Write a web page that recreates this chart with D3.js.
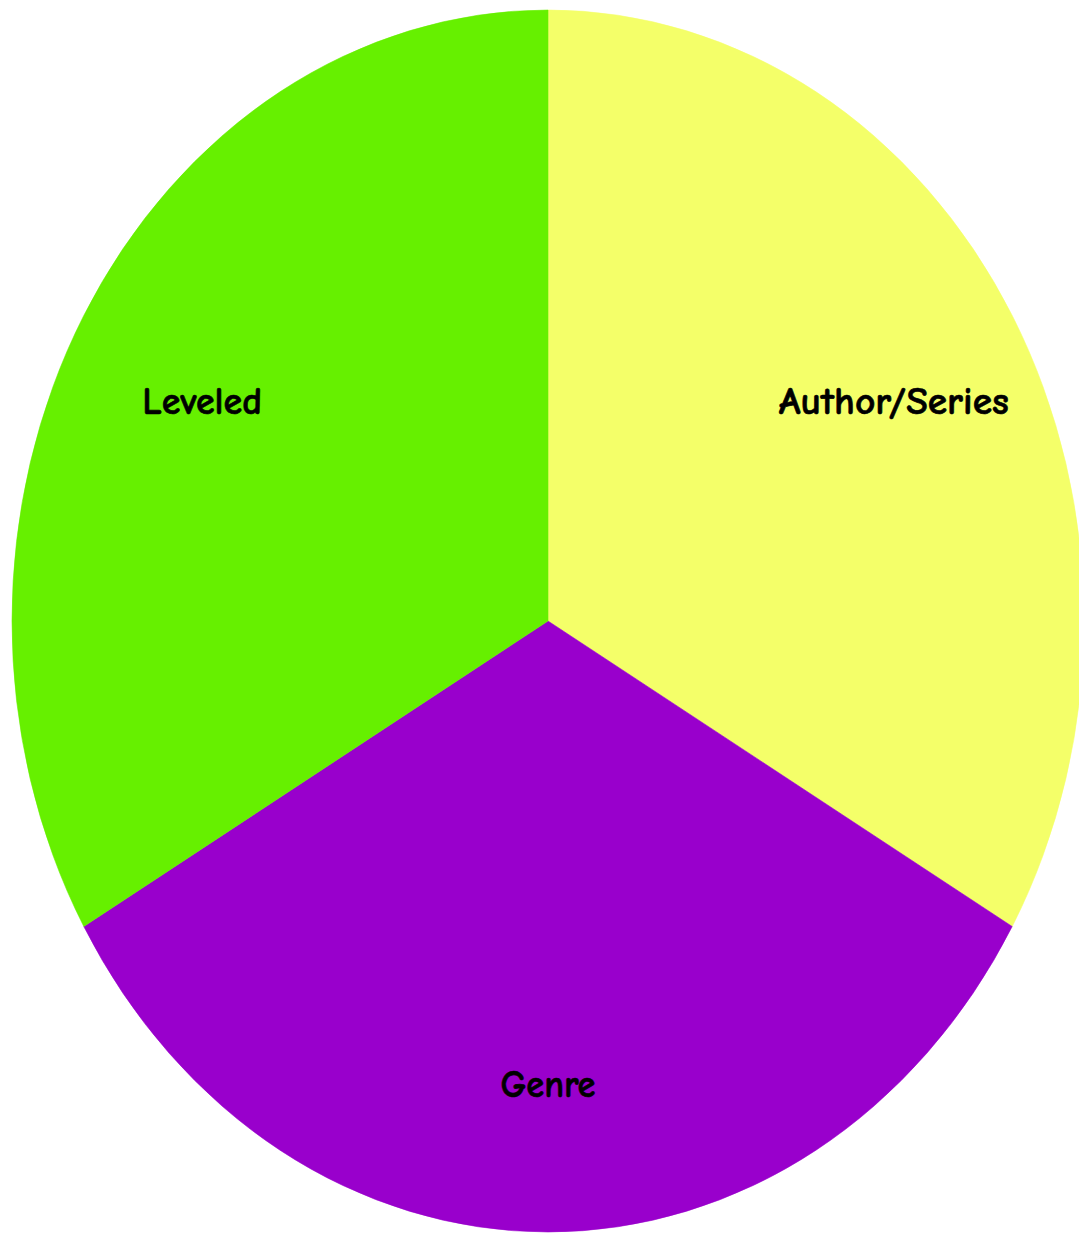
<!DOCTYPE html>
<html>
<head>
<meta charset="utf-8">
<script src="https://cdn.jsdelivr.net/npm/d3@7"></script>
<style>
  html, body { margin: 0; padding: 0; background: #fff; overflow: hidden; }
  svg { display: block; }
</style>
</head>
<body>
<svg id="chart"></svg>
<script>
// ── Data ─────────────────────────────────────────────
const categories = ['Author/Series', 'Genre', 'Leveled'];
const values     = [1, 1, 1];
const colors     = ['#F4FF69', '#9900CC', '#66F000'];
// measured label widths in the picture (text squeezed to fit)
const labelWidths = [230, 95, 120];

// ── Layout ───────────────────────────────────────────
const W = 1079, H = 1233;
const cx = 548, cy = 621;
const rx = 536, ry = 611;   // the pie is stretched into an ellipse
const R  = 100;             // unit radius, scaled to rx / ry
const labelR = 74.5;

const svg = d3.select('#chart').attr('width', W).attr('height', H);

const pie = d3.pie().value(d => d.value).sort(null);
const arcs = pie(categories.map((c, i) => ({ name: c, value: values[i], color: colors[i], w: labelWidths[i] })));

const arc = d3.arc().innerRadius(0).outerRadius(R);
const labelArc = d3.arc().innerRadius(labelR).outerRadius(labelR);

const g = svg.append('g')
  .attr('transform', `translate(${cx},${cy}) scale(${rx / R},${ry / R})`);

g.selectAll('path')
  .data(arcs)
  .join('path')
    .attr('d', arc)
    .attr('fill', d => d.data.color)
    .attr('stroke', d => d.data.color)
    .attr('stroke-width', 0.1);

// ── Labels ───────────────────────────────────────────
svg.append('g')
  .selectAll('text')
  .data(arcs)
  .join('text')
    .attr('x', d => cx + labelArc.centroid(d)[0] * rx / R)
    .attr('y', d => cy + labelArc.centroid(d)[1] * ry / R)
    .attr('text-anchor', 'middle')
    .attr('dy', '0.55em')
    .attr('font-family', '"Comic Sans MS", "Comic Neue", "DejaVu Sans", sans-serif')
    .attr('font-weight', 'bold')
    .attr('font-size', 38)
    .attr('fill', '#000')
    .attr('stroke', '#000')
    .attr('stroke-width', 0.6)
    .attr('textLength', d => d.data.w)
    .attr('lengthAdjust', 'spacingAndGlyphs')
    .text(d => d.data.name);
</script>
</body>
</html>
